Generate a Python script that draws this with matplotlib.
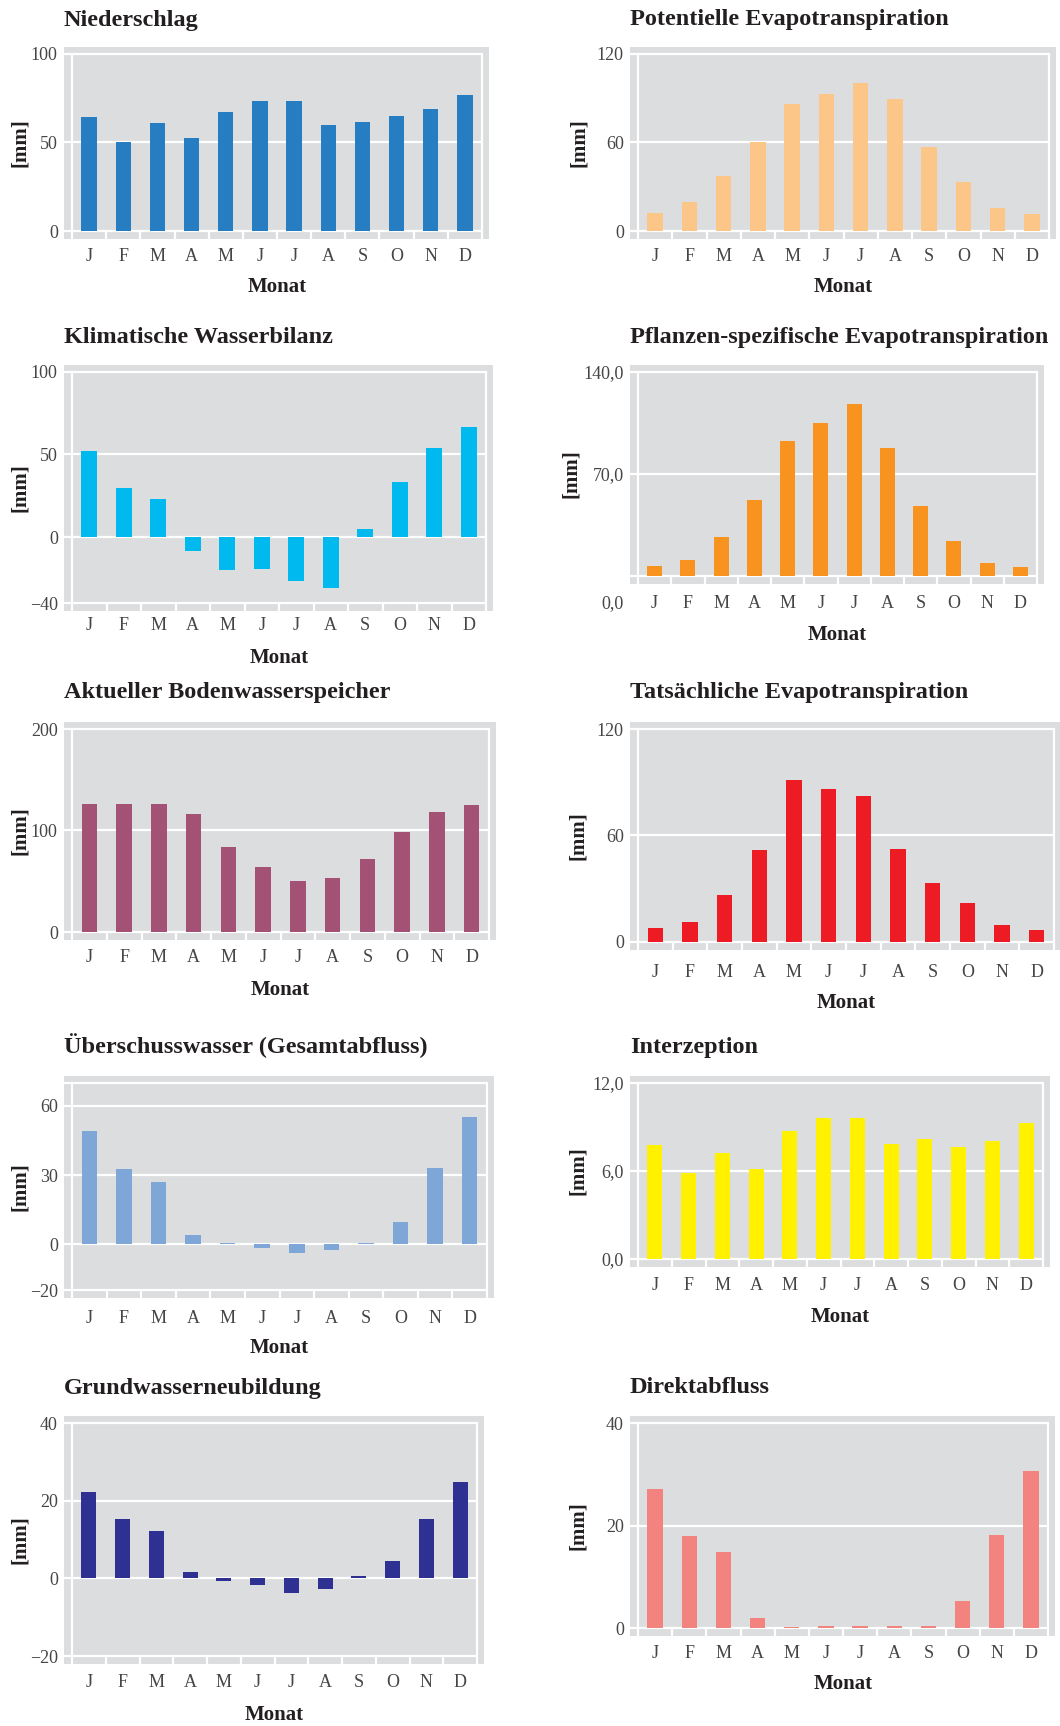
import matplotlib.pyplot as plt
import matplotlib.transforms as mtransforms
import numpy as np

# Monthly water balance panels.
W, H = 1060, 1726
GRAY = '#dcdddf'
TICK = '#454545'
DARK = '#231f20'
plt.rcParams['font.family'] = ['Liberation Serif', 'DejaVu Serif']

months = ['J', 'F', 'M', 'A', 'M', 'J', 'J', 'A', 'S', 'O', 'N', 'D']

niederschlag = [64.5, 50.3, 61.1, 52.6, 67.3, 73.5, 73.5, 59.9, 61.6, 65.0, 69.0, 76.9]
pot_evapo = [12.0, 19.7, 37.4, 60.3, 86.4, 93.0, 100.5, 89.6, 56.9, 33.3, 15.7, 11.3]
wasserbilanz = [52.1, 29.6, 22.9, -8.5, -20.1, -19.5, -26.8, -31.0, 4.7, 33.3, 54.0, 66.7]
pflanzen_evapo = [6.9, 11.2, 26.8, 52.2, 92.7, 105.0, 118.0, 87.9, 48.0, 24.0, 8.9, 6.2]
bodenwasser = [126.0, 126.0, 126.0, 116.2, 83.8, 64.2, 50.4, 53.4, 72.0, 98.5, 118.2, 125.0]
tats_evapo = [7.7, 11.0, 26.7, 52.0, 91.2, 86.2, 82.2, 52.5, 33.5, 21.7, 9.3, 6.5]
ueberschuss = [49.1, 32.6, 27.0, 3.9, 0.3, -1.7, -3.9, -2.6, 0.5, 9.6, 33.0, 55.2]
interzeption = [7.77, 5.85, 7.22, 6.13, 8.75, 9.64, 9.64, 7.86, 8.18, 7.63, 8.04, 9.27]
grundwasser = [22.3, 15.2, 12.3, 1.65, -0.7, -1.7, -3.8, -2.8, 0.6, 4.5, 15.2, 24.9]
direktabfluss = [27.1, 18.0, 14.9, 2.0, 0.26, 0.3, 0.3, 0.3, 0.45, 5.3, 18.2, 30.6]

fig = plt.figure(figsize=(W / 100, H / 100), dpi=100)


def fy(y):
    return 1 - y / H


def add_panel(title, values, color, yticks, ylabels, ymin, ymax, frame,
              title_y, xtick_y, monat_y, mm_x, zero_label_y=None):
    fl, fr, ft, fb = frame
    pl, pr, pt, pb = 8, 7, 7, 8
    gl, gr, gt, gb = fl - pl, fr + pr, ft - pt, fb + pb
    ax = fig.add_axes([gl / W, fy(gb), (gr - gl) / W, (gb - gt) / H])
    cw = (fr - fl) / 12
    ppu = (fb - ft) / (ymax - ymin)
    ax.set_xlim(-0.5 - pl / cw, 11.5 + pr / cw)
    ax.set_ylim(ymin - pb / ppu, ymax + pt / ppu)
    ax.set_facecolor(GRAY)
    for s in ax.spines.values():
        s.set_visible(False)

    # white frame, grid lines and month separators
    x0 = ax.get_xlim()[0]
    y0 = ax.get_ylim()[0]
    for v in sorted(set(list(yticks) + [ymin, ymax])):
        ax.plot([x0, 11.5], [v, v], color='white', lw=1.6, zorder=1,
                solid_capstyle='butt')
    ax.plot([-0.5, -0.5], [y0, ymax], color='white', lw=1.6, zorder=1)
    ax.plot([11.5, 11.5], [y0, ymax], color='white', lw=1.6, zorder=1)
    ax.vlines(np.arange(0.5, 11), y0, ymin, color='white', lw=1.6, zorder=1)

    x = np.arange(len(months))
    ax.bar(x, values, width=0.45, color=color, zorder=2)

    ax.set_yticks(yticks)
    ax.set_yticklabels(ylabels)
    ax.tick_params(axis='y', length=0, pad=4.5, labelsize=13, labelcolor=TICK)
    ax.set_xticks([])

    trans = mtransforms.blended_transform_factory(ax.transData, fig.transFigure)
    for i, m in enumerate(months):
        ax.text(i, fy(xtick_y), m, transform=trans, ha='center', va='center',
                fontsize=13, color=TICK)
    if zero_label_y is not None:
        fig.text((gl - 6) / W, fy(zero_label_y), '0,0', ha='right', va='center',
                 fontsize=13, color=TICK)

    fig.text(gl / W, fy(title_y), title, ha='left', va='baseline',
             fontsize=17.5, weight='bold', color=DARK)
    fig.text((fl + fr) / 2 / W, fy(monat_y), 'Monat', ha='center', va='center',
             fontsize=15, weight='bold', color=DARK)
    fig.text(mm_x / W, fy((ft + fb) / 2), '[mm]', rotation=90, ha='center',
             va='center', fontsize=15, weight='bold', color=DARK)
    return ax


M = '\u2212'

# left column
add_panel('Niederschlag', niederschlag, '#267dc2', [0, 50, 100], ['0', '50', '100'],
          0, 100, (72, 482, 54, 231), 26, 256, 287, 20)
add_panel('Klimatische Wasserbilanz', wasserbilanz, '#00b9ef', [-40, 0, 50, 100],
          [M + '40', '0', '50', '100'], -40, 100, (72, 486, 372, 603), 343, 625, 658, 20)
add_panel('Aktueller Bodenwasserspeicher', bodenwasser, '#a35275', [0, 100, 200],
          ['0', '100', '200'], 0, 200, (72, 489, 729, 932), 698, 958, 990, 20)
add_panel('\u00dcberschusswasser (Gesamtabfluss)', ueberschuss, '#7ea7d8',
          [-20, 0, 30, 60], [M + '20', '0', '30', '60'], -20, 70,
          (72, 487, 1083, 1290), 1053, 1318, 1348, 20)
add_panel('Grundwasserneubildung', grundwasser, '#2e3192', [-20, 0, 20, 40],
          [M + '20', '0', '20', '40'], -20, 40, (72, 477, 1423, 1656), 1394, 1682, 1715, 20)

# right column
add_panel('Potentielle Evapotranspiration', pot_evapo, '#fbc688', [0, 60, 120],
          ['0', '60', '120'], 0, 120, (638, 1049, 54, 231), 25, 256, 287, 579)
add_panel('Pflanzen-spezifische Evapotranspiration', pflanzen_evapo, '#f7931e',
          [70, 140], ['70,0', '140,0'], 0, 140, (638, 1037, 372, 576), 343, 604, 635, 571,
          zero_label_y=604)
add_panel('Tats\u00e4chliche Evapotranspiration', tats_evapo, '#ed1c24', [0, 60, 120],
          ['0', '60', '120'], 0, 120, (638, 1054, 729, 942), 698, 972, 1003, 578)
add_panel('Interzeption', interzeption, '#fff100', [0, 6, 12], ['0,0', '6,0', '12,0'],
          0, 12, (638, 1043, 1083, 1259), 1053, 1285, 1317, 578)
add_panel('Direktabfluss', direktabfluss, '#f2837f', [0, 20, 40], ['0', '20', '40'],
          0, 40, (638, 1048, 1423, 1628), 1393, 1653, 1684, 578)

fig.savefig('out.png', dpi=100, facecolor='white')
